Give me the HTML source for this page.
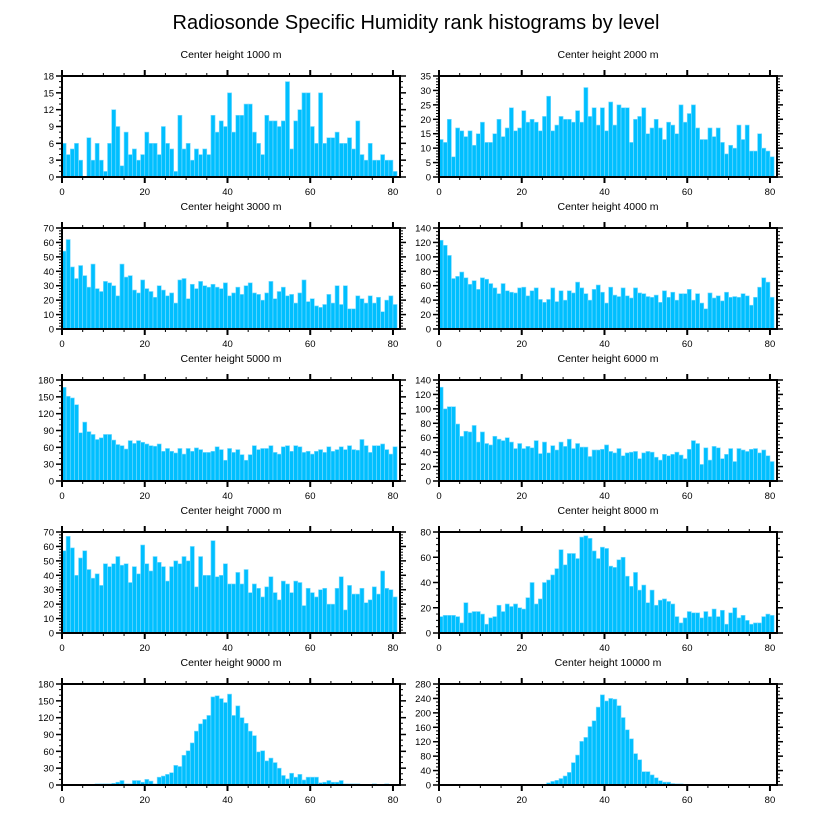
<!DOCTYPE html>
<html><head><meta charset="utf-8"><style>
html,body{margin:0;padding:0;background:#fff;}
svg{display:block;font-family:"Liberation Sans",sans-serif;}
</style></head><body>
<svg id="chart" width="816" height="824" viewBox="0 0 816 824" xmlns="http://www.w3.org/2000/svg">
<text x="416" y="29" text-anchor="middle" font-size="20">Radiosonde Specific Humidity rank histograms by level</text>
</svg>
<script>
const titles = ["Center height 1000 m","Center height 2000 m","Center height 3000 m","Center height 4000 m","Center height 5000 m","Center height 6000 m","Center height 7000 m","Center height 8000 m","Center height 9000 m","Center height 10000 m"];
const h1000 = [6,4,5,6,3,0,7,3,6,3,1,6,12,9,2,8,4,5,3,4,8,6,6,4,9,6,5,1,11,5,6,3,5,4,5,4,11,8,10,9,15,8,11,11,13,13,8,6,4,11,10,10,9,10,17,5,10,12,15,15,9,6,15,6,7,7,8,6,6,7,5,10,4,3,6,3,3,4,3,3,1];
const h2000 = [13,12,20,7,17,16,14,16,11,15,19,12,12,15,20,14,17,24,16,17,23,19,20,19,16,21,28,16,18,21,20,20,19,23,19,31,21,24,18,24,16,26,18,25,24,24,12,20,21,24,15,17,20,17,13,19,18,15,25,19,22,25,17,13,13,17,14,17,12,8,11,10,18,13,18,9,9,15,10,9,7];
const h3000 = [54,62,43,35,44,37,29,45,28,26,33,32,30,23,45,36,37,27,25,34,28,26,22,30,27,23,25,18,34,35,21,31,28,33,30,29,31,29,28,32,23,25,29,24,30,32,25,24,20,25,33,21,26,29,23,24,18,25,34,19,21,16,15,17,24,18,30,17,30,14,14,23,21,18,23,18,22,12,20,23,17];
const h4000 = [123,116,102,70,73,79,71,62,67,55,71,69,63,57,49,63,53,51,50,57,58,46,53,57,41,37,41,57,38,53,40,53,50,65,57,49,40,55,61,51,36,58,47,45,57,46,43,57,50,49,45,44,47,37,53,44,51,40,49,49,55,40,49,36,28,50,43,46,39,51,44,45,44,49,46,33,44,58,71,65,44];
const h5000 = [167,151,148,136,86,105,88,83,74,77,83,83,73,65,63,57,72,67,72,69,66,63,62,66,53,58,53,50,58,48,58,53,59,56,51,51,53,61,56,37,58,51,56,47,37,47,63,56,58,58,63,51,48,61,63,53,63,61,51,53,48,53,56,51,61,53,56,61,56,63,56,55,74,63,51,63,63,66,56,48,61];
const h6000 = [130,100,103,103,79,62,69,68,77,54,68,52,50,62,58,56,60,54,45,52,45,48,46,56,38,54,39,49,43,54,48,58,45,52,47,47,34,43,43,44,50,41,39,45,35,39,40,41,31,39,41,40,33,29,37,35,37,40,36,31,44,56,52,23,46,29,48,46,31,37,45,27,45,43,41,44,45,39,43,35,27];
const h7000 = [57,67,59,40,52,57,44,38,41,33,48,46,48,53,47,48,35,46,41,61,48,43,53,49,46,36,46,50,48,53,50,60,32,53,40,40,64,39,40,48,34,34,42,34,44,28,34,31,25,32,39,28,23,36,34,28,36,35,19,31,28,25,30,31,20,20,31,39,16,33,27,27,31,21,23,32,27,43,31,30,25];
const h8000 = [13,14,14,14,13,8,24,16,17,17,15,7,12,13,22,17,23,21,23,20,19,28,40,23,27,40,42,46,51,66,54,63,63,59,76,77,75,65,59,68,67,53,52,58,60,45,37,48,34,38,24,34,22,26,27,25,23,13,8,12,17,16,16,12,17,13,19,13,18,7,16,20,12,14,10,7,8,8,13,15,14];
const h9000 = [0,0,0,0,0,0,0,0,2,2,2,2,3,5,8,2,2,8,8,5,10,7,2,14,16,19,22,35,33,53,61,75,96,109,117,124,157,159,154,147,162,124,141,120,110,96,88,59,61,43,48,40,30,17,11,21,14,19,9,14,14,14,4,5,8,5,5,8,2,2,2,2,1,1,1,2,1,1,2,1,1];
const h10000 = [0,0,0,0,0,0,0,0,0,0,0,0,0,0,0,0,0,0,0,0,0,2,0,0,2,2,6,10,13,18,25,35,62,83,121,132,162,178,216,250,233,240,238,220,187,153,128,87,70,37,37,28,20,12,8,8,4,3,3,2,0,0,0,0,0,0,0,0,0,0,0,0,0,0,0,0,0,0,0,0,0];
const yMax = [18,35,70,140,180,140,70,80,180,280];
const yMajor = [3,5,10,20,30,20,10,20,30,40];
const yMinor = [1,1,2,5,10,5,2,5,10,10];
const xTicks = [0,20,40,60,80];
const series = [h1000,h2000,h3000,h4000,h5000,h6000,h7000,h8000,h9000,h10000];
const xMax = 81.7;
const NS = "http://www.w3.org/2000/svg";
const svg = document.getElementById("chart");
function mk(tag, attrs, parent){const e=document.createElementNS(NS,tag);for(const k in attrs)e.setAttribute(k,attrs[k]);(parent||svg).appendChild(e);return e;}
const colX=[62,439], W=338, H=101, rowY=[76,228,380,532,684];
series.forEach((data,p)=>{
  const L=colX[p%2], T=rowY[Math.floor(p/2)], B=T+H, R=L+W;
  const g=mk("g",{});
  
  
  const xs=v=>L+v/xMax*W, ys=v=>B-v/yMax[p]*H;
  const t=mk("text",{x:(L+R)/2,y:T-18,"text-anchor":"middle","font-size":"10.5"},g);
  t.textContent=titles[p];
  
  
  data.forEach((v,i)=>{
    if(v<=0) return;
    const r=mk("rect",{x:xs(i),y:ys(v),width:xs(i+1)-xs(i),height:B-ys(v),fill:"#00bfff",stroke:"#7fdcff","stroke-width":"0.6"},g);
    
    
  });
  for(let v=0;v<=80;v+=5){
    const big=v%20===0, len=big?6:3;
    mk("line",{x1:xs(v),x2:xs(v),y1:B,y2:B+len,stroke:"#000","stroke-width":big?2:1},g);
    mk("line",{x1:xs(v),x2:xs(v),y1:T,y2:T-len,stroke:"#000","stroke-width":big?2:1},g);
  }
  xTicks.forEach(v=>{
    const tl=mk("text",{x:xs(v),y:B+18,"text-anchor":"middle","font-size":"9.5"},g);
    tl.textContent=v;
    
    
  });
  for(let v=0;v<=yMax[p]+1e-9;v+=yMinor[p]){
    const big=Math.abs(v/yMajor[p]-Math.round(v/yMajor[p]))<1e-6, len=big?6:3;
    mk("line",{x1:L,x2:L-len,y1:ys(v),y2:ys(v),stroke:"#000","stroke-width":big?1.5:1},g);
    mk("line",{x1:R,x2:R+len,y1:ys(v),y2:ys(v),stroke:"#000","stroke-width":big?1.5:1},g);
    if(big){
      const yl=mk("text",{x:L-8,y:ys(v)+3.5,"text-anchor":"end","font-size":"9.5"},g);
      yl.textContent=Math.round(v);
      
      
    }
  }
  const f=mk("rect",{x:L,y:T,width:W,height:H,fill:"none",stroke:"#000","stroke-width":"2"},g);
  
  
});
</script>
</body></html>
